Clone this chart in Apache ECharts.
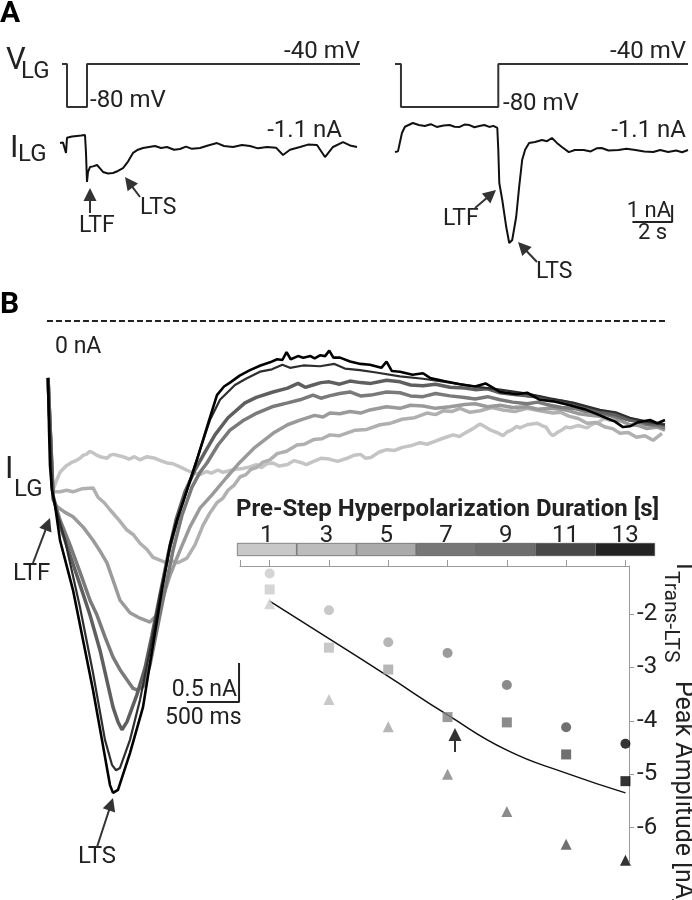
<!DOCTYPE html>
<html>
<head>
<meta charset="utf-8">
<script src="https://cdn.jsdelivr.net/npm/echarts@6/dist/echarts.min.js"></script>
<style>html,body{margin:0;padding:0;background:#fff}#c{width:692px;height:900px}</style>
</head>
<body>
<div id="c"></div>
<script>
// ---------- Panel A data (time in s, voltage in mV, current in nA) ----------
const leftVoltage = [[0.1,-40],[0.35,-40],[0.35,-80],[1.35,-80],[1.35,-40],[15,-40]];
const rightVoltage = [[0.05,-40],[0.35,-40],[0.35,-80],[5.25,-80],[5.25,-40],[14.8,-40]];
const leftCurrent = [[0,-0.81],[0.15,-0.78],[0.25,-0.75],[0.3,-1.39],[0.35,-0.5],[0.4,-0.45],[0.6,-0.42],[0.85,-0.39],[1.05,-0.37],[1.25,-0.34],[1.3,-1.39],[1.35,-3.10],[1.4,-2.51],[1.5,-2.22],[1.65,-2.18],[1.85,-2.10],[2.0,-2.3],[2.15,-2.51],[2.4,-2.6],[2.65,-2.57],[2.9,-2.45],[3.15,-2.28],[3.4,-1.9],[3.65,-1.39],[3.9,-1.2],[4.15,-1.10],[4.45,-1.04],[4.75,-0.98],[5.05,-1.1],[5.35,-1.04],[5.7,-1.2],[6.0,-1.16],[6.3,-1.02],[6.6,-1.15],[7.0,-1.10],[7.4,-0.95],[7.85,-0.81],[8.2,-0.98],[8.65,-1.04],[9.1,-0.92],[9.5,-0.98],[9.9,-1.12],[10.35,-1.04],[10.8,-1.08],[11.15,-1.51],[11.5,-1.2],[12.0,-1.04],[12.4,-0.9],[12.85,-0.92],[13.25,-1.63],[13.65,-1.04],[14.15,-0.75],[14.5,-0.95],[14.85,-1.04]];
const rightCurrent = [[0.05,-1.34],[0.2,-1.3],[0.3,-1.39],[0.4,-0.22],[0.55,0.15],[0.65,0.25],[0.95,0.37],[1.25,0.25],[1.55,0.19],[1.85,0.3],[2.15,0.14],[2.5,0.22],[2.8,0.25],[3.05,0.15],[3.3,0.14],[3.55,0.28],[3.8,0.25],[4.05,0.12],[4.3,0.19],[4.55,0.25],[4.8,0.14],[5.0,0.2],[5.2,0.08],[5.25,-1.22],[5.3,-3.16],[5.45,-4.16],[5.65,-5.75],[5.8,-6.69],[5.95,-6.51],[6.15,-5.16],[6.3,-3.39],[6.45,-1.81],[6.6,-1.2],[6.8,-0.81],[7.1,-0.75],[7.45,-0.63],[7.7,-0.7],[7.95,-0.51],[8.2,-0.8],[8.45,-1.04],[8.8,-1.34],[9.1,-1.22],[9.55,-1.22],[9.9,-1.3],[10.2,-1.12],[10.45,-1.10],[10.8,-1.25],[11.3,-1.22],[11.7,-1.15],[12.15,-1.22],[12.6,-1.3],[13.05,-1.34],[13.4,-1.22],[13.8,-1.34],[14.2,-1.25],[14.5,-1.35],[14.8,-1.22]];
const scaleBarA = {t: 14.0, i: -4.45, nA: 1, s: 2};

// ---------- Panel B data (time in ms, current in nA) ----------
const trace1s = [[0,-0.73],[48,-2.17],[77,-2.06],[115,-1.94],[173,-1.86],[230,-1.81],[270,-1.79],[307,-1.76],[340,-1.72],[370,-1.71],[400,-1.67],[432,-1.69],[466,-1.72],[500,-1.74],[566,-1.76],[600,-1.72],[630,-1.71],[691,-1.73],[740,-1.75],[780,-1.77],[830,-1.74],[883,-1.78],[950,-1.74],[1027,-1.76],[1080,-1.79],[1142,-1.82],[1200,-1.83],[1267,-1.87],[1360,-1.93],[1459,-1.97],[1520,-1.93],[1570,-1.95],[1630,-1.91],[1680,-1.94],[1740,-1.92],[1800,-1.90],[1870,-1.89],[1939,-1.87],[2000,-1.84],[2050,-1.88],[2100,-1.83],[2160,-1.82],[2220,-1.86],[2300,-1.84],[2360,-1.79],[2419,-1.81],[2480,-1.84],[2550,-1.80],[2620,-1.76],[2700,-1.77],[2780,-1.80],[2870,-1.76],[2940,-1.72],[3000,-1.71],[3050,-1.76],[3100,-1.75],[3180,-1.68],[3254,-1.65],[3330,-1.66],[3400,-1.62],[3480,-1.60],[3571,-1.56],[3640,-1.58],[3700,-1.55],[3800,-1.50],[3888,-1.46],[3950,-1.48],[4000,-1.44],[4080,-1.38],[4147,-1.32],[4200,-1.36],[4250,-1.40],[4310,-1.43],[4368,-1.47],[4410,-1.42],[4450,-1.40],[4500,-1.35],[4531,-1.37],[4600,-1.33],[4694,-1.31],[4740,-1.34],[4780,-1.36],[4820,-1.44],[4848,-1.47],[4900,-1.42],[4930,-1.40],[4970,-1.36],[5011,-1.37],[5090,-1.34],[5174,-1.37],[5230,-1.32],[5280,-1.30],[5340,-1.25],[5395,-1.27]];
const trace3s = [[0,-0.73],[48,-2.19],[115,-2.19],[180,-2.17],[240,-2.19],[330,-2.15],[432,-2.14],[480,-2.26],[540,-2.33],[595,-2.42],[680,-2.55],[758,-2.68],[820,-2.74],[883,-2.85],[950,-2.93],[1008,-3.03],[1080,-3.07],[1142,-3.10],[1200,-3.08],[1248,-3.10],[1334,-3.04],[1411,-2.87],[1488,-2.62],[1555,-2.46],[1622,-2.33],[1680,-2.27],[1728,-2.17],[1790,-2.10],[1843,-2.00],[1900,-1.97],[1950,-1.90],[2000,-1.88],[2064,-1.81],[2130,-1.78],[2200,-1.70],[2290,-1.67],[2390,-1.59],[2460,-1.58],[2550,-1.52],[2630,-1.51],[2707,-1.46],[2800,-1.47],[2950,-1.40],[3060,-1.39],[3187,-1.33],[3290,-1.31],[3400,-1.26],[3520,-1.24],[3638,-1.18],[3720,-1.20],[3800,-1.15],[3880,-1.16],[3955,-1.12],[4050,-1.17],[4150,-1.15],[4260,-1.11],[4368,-1.14],[4480,-1.16],[4600,-1.12],[4720,-1.15],[4848,-1.18],[4920,-1.17],[5000,-1.22],[5090,-1.25],[5174,-1.31],[5260,-1.30],[5350,-1.36],[5420,-1.38],[5491,-1.44],[5570,-1.43],[5650,-1.49],[5730,-1.47],[5808,-1.53],[5894,-1.44]];
const trace5s = [[0,-0.73],[48,-2.29],[86,-2.38],[160,-2.45],[240,-2.51],[336,-2.64],[432,-2.81],[500,-2.95],[566,-3.10],[624,-3.32],[691,-3.58],[787,-3.74],[883,-3.81],[979,-3.86],[1046,-3.77],[1104,-3.54],[1171,-3.26],[1267,-2.94],[1363,-2.64],[1459,-2.40],[1574,-2.23],[1718,-2.00],[1843,-1.81],[1987,-1.62],[2160,-1.44],[2300,-1.33],[2419,-1.27],[2560,-1.21],[2640,-1.23],[2707,-1.18],[2800,-1.19],[2900,-1.16],[3000,-1.18],[3091,-1.14],[3250,-1.10],[3379,-1.12],[3480,-1.08],[3600,-1.09],[3720,-1.12],[3859,-1.10],[4000,-1.07],[4100,-1.06],[4220,-1.10],[4339,-1.08],[4460,-1.11],[4600,-1.10],[4700,-1.13],[4819,-1.12],[4920,-1.13],[5000,-1.15],[5100,-1.19],[5203,-1.21],[5300,-1.22],[5400,-1.27],[5500,-1.28],[5587,-1.33],[5670,-1.34],[5750,-1.38],[5850,-1.36],[5923,-1.40]];
const trace7s = [[0,-0.73],[48,-2.26],[115,-2.55],[211,-2.87],[307,-3.22],[403,-3.58],[470,-3.77],[547,-4.05],[624,-4.31],[691,-4.47],[758,-4.60],[816,-4.71],[854,-4.73],[912,-4.69],[979,-4.41],[1046,-3.96],[1123,-3.45],[1200,-2.94],[1286,-2.49],[1382,-2.13],[1459,-1.94],[1526,-1.82],[1632,-1.59],[1747,-1.40],[1870,-1.28],[2006,-1.18],[2150,-1.10],[2300,-1.05],[2419,-1.01],[2544,-0.95],[2620,-0.99],[2700,-0.96],[2800,-0.93],[2899,-0.91],[3000,-0.96],[3100,-0.95],[3250,-0.91],[3379,-0.92],[3480,-0.96],[3600,-0.97],[3720,-0.93],[3859,-0.96],[4000,-0.98],[4100,-1.00],[4220,-0.97],[4339,-1.01],[4460,-1.04],[4600,-1.06],[4700,-1.04],[4819,-1.08],[4930,-1.11],[5050,-1.12],[5170,-1.16],[5299,-1.18],[5450,-1.23],[5587,-1.27],[5680,-1.30],[5750,-1.33],[5850,-1.34],[5923,-1.37]];
const trace9s = [[0,-0.73],[48,-2.23],[115,-2.62],[211,-3.00],[307,-3.38],[403,-3.77],[499,-4.22],[576,-4.67],[624,-4.95],[672,-5.14],[710,-5.24],[758,-5.14],[854,-4.79],[931,-4.45],[998,-4.03],[1075,-3.51],[1152,-3.00],[1229,-2.55],[1315,-2.19],[1411,-1.91],[1507,-1.68],[1603,-1.46],[1728,-1.24],[1891,-1.05],[2000,-0.98],[2160,-0.91],[2300,-0.86],[2400,-0.80],[2470,-0.85],[2544,-0.82],[2620,-0.79],[2700,-0.78],[2800,-0.81],[2899,-0.77],[3000,-0.79],[3100,-0.80],[3250,-0.76],[3379,-0.78],[3480,-0.82],[3600,-0.83],[3720,-0.81],[3859,-0.85],[4000,-0.86],[4100,-0.88],[4220,-0.87],[4339,-0.92],[4460,-0.94],[4600,-0.96],[4700,-0.97],[4819,-1.01],[4930,-1.03],[5050,-1.06],[5170,-1.12],[5299,-1.17],[5450,-1.20],[5587,-1.27],[5680,-1.28],[5750,-1.31],[5850,-1.32],[5923,-1.33]];
const trace11s = [[0,-0.73],[38,-2.17],[77,-2.42],[163,-2.81],[307,-3.67],[432,-4.51],[547,-5.37],[614,-5.69],[653,-5.76],[691,-5.73],[787,-5.37],[883,-4.86],[979,-4.22],[1075,-3.51],[1171,-2.91],[1267,-2.45],[1363,-2.04],[1459,-1.65],[1555,-1.27],[1651,-1.01],[1795,-0.82],[1900,-0.74],[2035,-0.65],[2150,-0.62],[2250,-0.56],[2323,-0.60],[2450,-0.57],[2611,-0.58],[2750,-0.55],[2850,-0.61],[2995,-0.63],[3150,-0.66],[3379,-0.71],[3600,-0.74],[3859,-0.79],[4100,-0.84],[4339,-0.88],[4600,-0.93],[4819,-0.99],[5050,-1.05],[5299,-1.14],[5450,-1.17],[5587,-1.24],[5750,-1.29],[5923,-1.33]];
const trace13s = [[0,-0.73],[10,-1.40],[19,-1.85],[38,-2.17],[67,-2.36],[115,-2.81],[240,-3.45],[336,-4.09],[432,-4.73],[518,-5.37],[595,-5.95],[624,-6.05],[672,-6.01],[787,-5.54],[912,-4.95],[1008,-4.15],[1094,-3.45],[1171,-2.87],[1238,-2.55],[1334,-2.17],[1430,-1.78],[1526,-1.36],[1622,-0.95],[1690,-0.84],[1747,-0.79],[1840,-0.70],[1939,-0.63],[2040,-0.57],[2131,-0.53],[2200,-0.49],[2250,-0.50],[2290,-0.40],[2330,-0.49],[2400,-0.45],[2450,-0.47],[2520,-0.45],[2560,-0.48],[2611,-0.44],[2660,-0.45],[2700,-0.38],[2740,-0.47],[2803,-0.47],[2900,-0.52],[3000,-0.55],[3091,-0.56],[3200,-0.60],[3250,-0.52],[3300,-0.64],[3379,-0.65],[3500,-0.69],[3600,-0.67],[3667,-0.73],[3800,-0.77],[3955,-0.81],[4100,-0.84],[4200,-0.80],[4339,-0.91],[4500,-0.94],[4600,-0.92],[4723,-1.01],[4850,-1.03],[5011,-1.08],[5150,-1.13],[5299,-1.21],[5443,-1.29],[5520,-1.36],[5587,-1.35],[5660,-1.30],[5779,-1.27],[5850,-1.31],[5923,-1.27]];
const zeroLine = [[-10,0],[5930,0]];
const scaleBarB = {t: 1834, i: -4.385, nA: 0.5, ms: 500};

// ---------- Inset data ----------
const durationLabels = ['1','3','5','7','9','11','13'];
const durations = [1,3,5,7,9,11,13];
const circleAmp = [-1.24,-1.93,-2.53,-2.73,-3.33,-4.12,-4.43];
const squareAmp = [-1.54,-2.63,-3.04,-3.93,-4.03,-4.63,-5.13];
const triangleAmp = [-1.81,-3.60,-4.11,-5.00,-5.70,-6.31,-6.61];
const fitAmp = [-1.76,-2.46,-3.17,-3.89,-4.55,-4.98,-5.35];
const yTicks = [-2,-3,-4,-5,-6];
const xTicks = [0,1,3,5,7,9,11,13];
const colorbarColors = ['#c8c8c8','#bcbcbc','#aaaaaa','#777777','#6e6e6e','#484848','#232323'];
const markerColors = ['#cacaca','#bababa','#a4a4a4','#828282','#6e6e6e','#4c4c4c','#000000'];
const traceColors = ['#c4c4c4','#b0b0b0','#9a9a9a','#7a7a7a','#5f5f5f','#2e2e2e','#000000'];
const traceWidths = [3.5,3.5,3.5,3.5,3.5,2.2,2.6];
const traces = [trace1s,trace3s,trace5s,trace7s,trace9s,trace11s,trace13s];

// ---------- helpers ----------
const FONT = 'Roboto';
const INK = '#222';
function txt(s, x, y, size, o) {
  o = o || {};
  return {type:'text', x:x, y:y, z:50,
    style:{text:s, fontSize:size, fontFamily:FONT, fontWeight:o.bold?'bold':'normal', fill:o.color||INK,
      align:o.align||'left', textAlign:o.align||'left', verticalAlign:'middle', textVerticalAlign:'middle'}};
}
function arrow(x1,y1,x2,y2) {
  const dx=x2-x1, dy=y2-y1, L=Math.hypot(dx,dy), ux=dx/L, uy=dy/L, hl=13, hw=6.5;
  const bx=x2-ux*hl, by=y2-uy*hl;
  return [
    {type:'line', z:50, shape:{x1:x1,y1:y1,x2:bx+ux*2,y2:by+uy*2}, style:{stroke:'#333', lineWidth:2}},
    {type:'polygon', z:50, shape:{points:[[x2,y2],[bx-uy*hw,by+ux*hw],[bx+uy*hw,by-ux*hw]]}, style:{fill:'#333'}}
  ];
}
function hidden(gi, min, max) { return {type:'value', gridIndex:gi, min:min, max:max, show:false}; }
function lineS(xi, data, color, width, extra) {
  return Object.assign({type:'line', xAxisIndex:xi, yAxisIndex:xi, data:data, showSymbol:false, symbol:'none',
    clip:false, silent:true, lineStyle:{color:color, width:width}, z:2}, extra||{});
}

const series = [];
series.push(lineS(0, leftVoltage, '#333', 2));
series.push(lineS(1, leftCurrent, '#111', 2));
series.push(lineS(2, rightVoltage, '#333', 2));
series.push(lineS(3, rightCurrent, '#111', 2));
series.push(lineS(3, [[scaleBarA.t - scaleBarA.s, scaleBarA.i - scaleBarA.nA],[scaleBarA.t, scaleBarA.i - scaleBarA.nA],[scaleBarA.t, scaleBarA.i]], '#222', 2));
series.push(lineS(4, zeroLine, '#222', 2, {lineStyle:{color:'#222', width:2, type:[6,3]}}));
traces.forEach((tr, k) => series.push(lineS(4, tr, traceColors[k], traceWidths[k], {z: 2 + k*0.01})));
series.push(lineS(4, [[scaleBarB.t - scaleBarB.ms, scaleBarB.i - scaleBarB.nA],[scaleBarB.t, scaleBarB.i - scaleBarB.nA],[scaleBarB.t, scaleBarB.i]], '#222', 2));
// colorbar
series.push({type:'bar', xAxisIndex:5, yAxisIndex:5, barWidth:'100%', barCategoryGap:'0%', silent:true,
  data: colorbarColors.map(c => ({value:1, itemStyle:{color:c, borderColor:'#4a4a4a', borderWidth:0.6}}))});
// scatter
function pts(vals) { return durations.map((d,i) => ({value:[d, vals[i]], itemStyle:{color:markerColors[i]}})); }
series.push(lineS(6, durations.map((d,i)=>[d, fitAmp[i]]), '#111', 1.5, {smooth:0.5}));
series.push({type:'scatter', xAxisIndex:6, yAxisIndex:6, symbol:'circle', symbolSize:10, data:pts(circleAmp), silent:true, z:3});
series.push({type:'scatter', xAxisIndex:6, yAxisIndex:6, symbol:'rect', symbolSize:10, data:pts(squareAmp), silent:true, z:3});
series.push({type:'scatter', xAxisIndex:6, yAxisIndex:6, symbol:'triangle', symbolSize:11, data:pts(triangleAmp), silent:true, z:3});

// rotated y-axis title of the inset: local x runs down the page, local +y runs to the left
const yTitle = {type:'group', x:692, y:563, rotation:-Math.PI/2, z:50, children:[
  txt('I', 0, 9, 25),
  txt('Trans-LTS', 8, 22, 21),
  txt('Peak Amplitude [nA]', 118, 10, 25)
]};

const graphic = [
  txt('A', 0, 14, 30, {bold:true, color:'#000'}),
  txt('V', 6, 61, 31), txt('LG', 21, 72, 24),
  txt('-40 mV', 360, 52, 24, {align:'right'}),
  txt('-80 mV', 90, 101, 24),
  txt('-40 mV', 686, 52, 24, {align:'right'}),
  txt('-80 mV', 503, 104, 24),
  txt('I', 10, 149, 31), txt('LG', 18, 155, 24),
  txt('-1.1 nA', 342, 131, 24, {align:'right'}),
  txt('-1.1 nA', 686, 131, 24, {align:'right'}),
  txt('LTF', 79, 226, 23), ...arrow(90,213,90,188),
  txt('LTS', 140, 208, 23), ...arrow(140,197,125,177),
  txt('LTF', 443, 219, 23), ...arrow(475,208,496,190),
  txt('LTS', 536, 272, 23), ...arrow(537,262,518,242),
  txt('1 nA', 671, 211, 22, {align:'right'}), txt('2 s', 638, 233, 22),
  txt('B', 0, 305, 30, {bold:true, color:'#000'}),
  txt('0 nA', 55, 347, 23),
  txt('I', 5, 470, 31), txt('LG', 14, 490, 24),
  txt('LTF', 13, 574, 24), ...arrow(33,563,50,518),
  txt('LTS', 78, 857, 24), ...arrow(97,847,113,798),
  txt('0.5 nA', 237, 690, 23, {align:'right'}), txt('500 ms', 165, 718, 23),
  txt('Pre-Step Hyperpolarization Duration [s]', 236, 510, 24, {bold:true}),
  ...arrow(455,752,455,728),
  yTitle
];

const option = {
  animation:false, backgroundColor:'#ffffff',
  textStyle:{fontFamily:FONT},
  grid:[
    {left:60, top:58.625, width:300, height:53.75},
    {left:60, top:112.3, width:300, height:136},
    {left:394, top:58.625, width:300, height:53.75},
    {left:394, top:112.3, width:300, height:136},
    {left:45.92, top:313.2, width:627.08, height:514.8},
    {left:237, top:543, width:418, height:13},
    {left:240, top:566, width:389, height:296}
  ],
  xAxis:[
    hidden(0,0,15), hidden(1,0,15), hidden(2,0,15), hidden(3,0,15), hidden(4,-20,6000),
    {type:'category', gridIndex:5, data:durationLabels, position:'top', axisLine:{show:false}, axisTick:{show:false},
      axisLabel:{fontSize:24, color:INK, margin:7, verticalAlign:'middle', fontFamily:FONT}},
    {type:'value', gridIndex:6, min:0, max:13.12, position:'top', splitLine:{show:false},
      axisLine:{show:true, onZero:false, lineStyle:{color:'#9a9a9a', width:1}},
      axisTick:{show:true, customValues:xTicks, length:6, lineStyle:{color:'#9a9a9a'}},
      axisLabel:{show:false}}
  ],
  yAxis:[
    hidden(0,-85,-35), hidden(1,-7,1), hidden(2,-85,-35), hidden(3,-7,1), hidden(4,-6.5,0.1),
    {type:'value', gridIndex:5, min:0, max:1, show:false},
    {type:'value', gridIndex:6, min:-6.644, max:-1.101, position:'right', splitLine:{show:false},
      axisLine:{show:true, onZero:false, lineStyle:{color:'#9a9a9a', width:1}},
      axisTick:{show:true, customValues:yTicks, length:5, lineStyle:{color:'#9a9a9a'}},
      axisLabel:{customValues:yTicks, fontSize:24, color:INK, margin:8, fontFamily:FONT}}
  ],
  series:series,
  graphic:graphic
};
const chart = echarts.init(document.getElementById('c'), null, {renderer:'canvas', width:692, height:900});
chart.setOption(option);
</script>
</body>
</html>
